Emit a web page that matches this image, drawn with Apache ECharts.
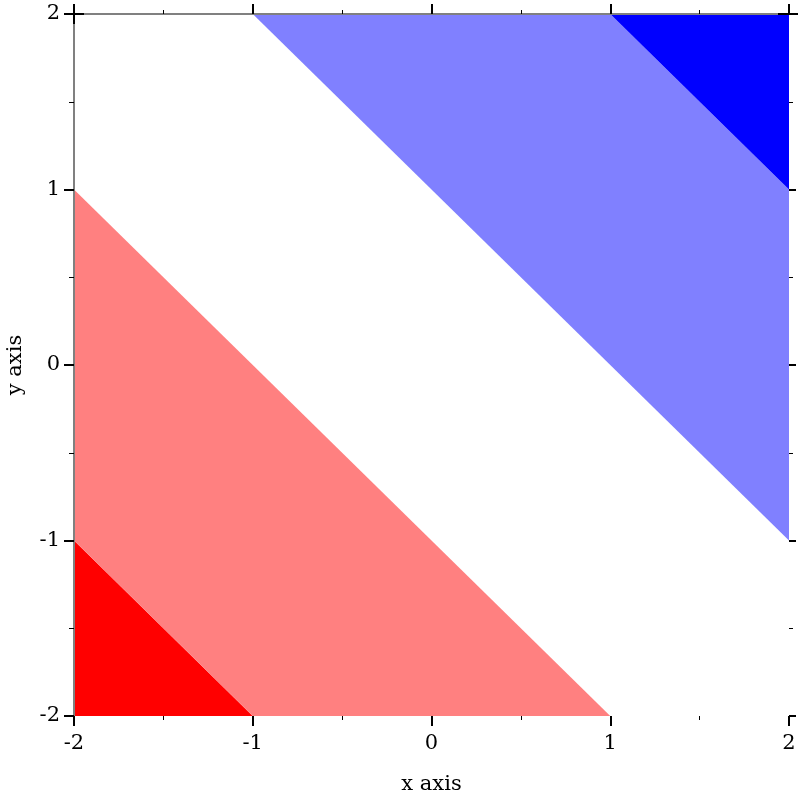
<!DOCTYPE html>
<html>
<head>
<meta charset="utf-8">
<script src="https://cdn.jsdelivr.net/npm/echarts@6/dist/echarts.min.js"></script>
<style>html,body{margin:0;padding:0;background:#fff;}#c{width:800px;height:800px;}</style>
</head>
<body>
<div id="c"></div>
<script>
// Axis ticks
var xTicks = [-2, -1, 0, 1, 2];
var yTicks = [-2, -1, 0, 1, 2];
// Contour interval regions (z = x + y): vertices in data coordinates
var regionNames = ['z < -3', '-3 .. -1', '1 .. 3', 'z > 3'];
var regionColors = ['#ff0000', '#ff8080', '#8080ff', '#0000ff'];
var regionRed = [[-2, -2], [-1, -2], [-2, -1]];
var regionLightRed = [[-2, -1], [-1, -2], [1, -2], [-2, 1]];
var regionLightBlue = [[-1, 2], [1, 2], [2, 1], [2, -1]];
var regionBlue = [[1, 2], [2, 2], [2, 1]];
var regions = [regionRed, regionLightRed, regionLightBlue, regionBlue];

var FONT = 'DejaVu Serif';
var chart = echarts.init(document.getElementById('c'), null, {renderer: 'canvas'});

function makeSeries(i) {
  var pts = regions[i];
  return {
    type: 'custom',
    name: regionNames[i],
    xAxisIndex: 0, yAxisIndex: 0,
    coordinateSystem: 'cartesian2d',
    data: [[0]],
    silent: true,
    z: 2,
    renderItem: function (params, api) {
      var p = pts.map(function (v) { return api.coord(v); });
      return {type: 'polygon', shape: {points: p}, style: {fill: regionColors[i], stroke: null}};
    }
  };
}

var tickLabel = {fontFamily: FONT, fontSize: 21, color: '#000'};
var option = {
  animation: false,
  backgroundColor: '#fff',
  grid: {left: 74, right: 11, top: 14, bottom: 84, containLabel: false, outerBoundsMode: 'none'},
  xAxis: [{
    type: 'value', min: -2, max: 2, interval: 1, position: 'bottom', z: 10,
    name: 'x axis', nameLocation: 'middle', nameGap: 58,
    nameTextStyle: {fontFamily: FONT, fontSize: 21, color: '#000'},
    axisLine: {show: false, onZero: false},
    axisTick: {show: true, inside: false, length: 10, lineStyle: {color: '#000', width: 2}},
    minorTick: {show: true, splitNumber: 2, length: 4, lineStyle: {color: '#000', width: 1}},
    splitLine: {show: false},
    axisLabel: Object.assign({margin: 17, formatter: function (v) { return String(v); }}, tickLabel)
  }, {
    type: 'value', min: -2, max: 2, interval: 1, position: 'top', z: 10,
    axisLine: {show: true, onZero: false, lineStyle: {color: '#808080', width: 2}},
    axisTick: {show: true, inside: false, length: 10, lineStyle: {color: '#000', width: 2}},
    minorTick: {show: true, splitNumber: 2, length: 4, lineStyle: {color: '#000', width: 1}},
    splitLine: {show: false},
    axisLabel: {show: false}
  }],
  yAxis: [{
    type: 'value', min: -2, max: 2, interval: 1, position: 'left', z: 10,
    name: 'y axis', nameLocation: 'middle', nameGap: 48, nameRotate: 90,
    nameTextStyle: {fontFamily: FONT, fontSize: 21, color: '#000'},
    axisLine: {show: true, onZero: false, lineStyle: {color: '#808080', width: 2}},
    axisTick: {show: true, inside: false, length: 10, lineStyle: {color: '#000', width: 2}},
    minorTick: {show: true, splitNumber: 2, length: 5, lineStyle: {color: '#000', width: 1}},
    splitLine: {show: false},
    axisLabel: Object.assign({margin: 14, formatter: function (v) { return String(v); }}, tickLabel)
  }, {
    type: 'value', min: -2, max: 2, interval: 1, position: 'right', z: 10,
    axisLine: {show: false, onZero: false},
    axisTick: {show: true, inside: false, length: 7, lineStyle: {color: '#000', width: 2}},
    minorTick: {show: true, splitNumber: 2, length: 4, lineStyle: {color: '#000', width: 1}},
    splitLine: {show: false},
    axisLabel: {show: false}
  }],
  series: [0, 1, 2, 3].map(makeSeries)
};
chart.setOption(option);

// small black corner segments at the top corners of the frame
var tl = chart.convertToPixel({xAxisIndex: 0, yAxisIndex: 0}, [xTicks[0], yTicks[yTicks.length - 1]]);
var tr = chart.convertToPixel({xAxisIndex: 0, yAxisIndex: 0}, [xTicks[xTicks.length - 1], yTicks[yTicks.length - 1]]);
chart.setOption({
  graphic: [
    {type: 'line', z: 100, shape: {x1: tl[0], y1: tl[1], x2: tl[0] + 10, y2: tl[1]}, style: {stroke: '#000', lineWidth: 2}},
    {type: 'line', z: 100, shape: {x1: tl[0], y1: tl[1], x2: tl[0], y2: tl[1] + 10}, style: {stroke: '#000', lineWidth: 2}},
    {type: 'line', z: 100, shape: {x1: tr[0] - 11, y1: tr[1], x2: tr[0] + 9, y2: tr[1]}, style: {stroke: '#000', lineWidth: 2}}
  ]
});
</script>
</body>
</html>
